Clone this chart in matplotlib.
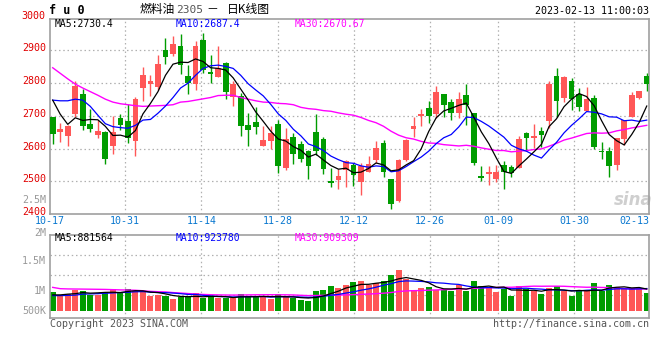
import numpy as np
import matplotlib.pyplot as plt
from matplotlib.transforms import blended_transform_factory

W, H = 660, 360

# daily candles, 2022-10-17 .. 2023-02-13
opens = [2697, 2651, 2638, 2705, 2766, 2674, 2641, 2651, 2608, 2694,
         2683, 2623, 2786, 2797, 2788, 2900, 2888, 2915, 2821, 2797,
         2931, 2833, 2819, 2860, 2757, 2760, 2671, 2680, 2608, 2623,
         2674, 2541, 2634, 2613, 2592, 2650, 2628, 2500, 2504, 2533,
         2550, 2499, 2528, 2565, 2618, 2506, 2440, 2565, 2660, 2698,
         2723, 2705, 2766, 2741, 2708, 2763, 2708, 2515, 2522, 2506,
         2549, 2543, 2540, 2648, 2632, 2653, 2683, 2821, 2754, 2808,
         2768, 2715, 2754, 2594, 2592, 2551, 2629, 2696, 2754, 2821]
highs = [2697, 2678, 2673, 2805, 2783, 2720, 2686, 2653, 2701, 2707,
         2737, 2757, 2848, 2825, 2885, 2938, 2943, 2949, 2854, 2928,
         2954, 2885, 2915, 2866, 2808, 2770, 2708, 2726, 2668, 2668,
         2688, 2664, 2648, 2622, 2597, 2705, 2636, 2541, 2538, 2564,
         2555, 2556, 2576, 2622, 2625, 2506, 2569, 2630, 2696, 2720,
         2744, 2790, 2766, 2750, 2772, 2796, 2708, 2546, 2548, 2549,
         2561, 2549, 2637, 2651, 2674, 2667, 2806, 2845, 2822, 2816,
         2784, 2787, 2763, 2619, 2604, 2631, 2686, 2773, 2775, 2830]
lows = [2615, 2620, 2608, 2696, 2656, 2651, 2632, 2553, 2583, 2658,
        2618, 2577, 2744, 2761, 2780, 2858, 2882, 2829, 2766, 2778,
        2831, 2799, 2819, 2750, 2729, 2638, 2608, 2644, 2608, 2600,
        2525, 2536, 2553, 2559, 2507, 2581, 2522, 2482, 2477, 2483,
        2485, 2458, 2528, 2557, 2513, 2415, 2437, 2561, 2635, 2669,
        2678, 2693, 2697, 2686, 2693, 2673, 2549, 2500, 2490, 2498,
        2477, 2513, 2540, 2592, 2603, 2606, 2663, 2696, 2741, 2718,
        2715, 2715, 2600, 2568, 2513, 2534, 2610, 2696, 2752, 2775]
closes = [2646, 2659, 2668, 2790, 2669, 2660, 2653, 2569, 2650, 2673,
          2632, 2750, 2826, 2807, 2857, 2880, 2920, 2856, 2801, 2912,
          2839, 2827, 2847, 2773, 2796, 2669, 2657, 2666, 2625, 2649,
          2547, 2628, 2583, 2567, 2547, 2592, 2537, 2496, 2515, 2561,
          2519, 2548, 2552, 2601, 2528, 2430, 2566, 2625, 2668, 2705,
          2698, 2772, 2732, 2708, 2751, 2732, 2556, 2510, 2528, 2528,
          2528, 2524, 2628, 2632, 2637, 2642, 2798, 2746, 2818, 2753,
          2727, 2751, 2604, 2588, 2547, 2631, 2686, 2763, 2775, 2797]

ma5 = [2748, 2705, 2674, 2694, 2686, 2689, 2688, 2668, 2640, 2641,
       2635, 2655, 2706, 2738, 2774, 2824, 2858, 2864, 2863, 2874,
       2866, 2847, 2845, 2840, 2816, 2782, 2748, 2712, 2683, 2653,
       2629, 2623, 2606, 2595, 2574, 2583, 2565, 2548, 2537, 2540,
       2526, 2528, 2539, 2556, 2550, 2532, 2535, 2550, 2563, 2599,
       2652, 2694, 2715, 2723, 2732, 2739, 2696, 2651, 2615, 2571,
       2530, 2524, 2547, 2568, 2590, 2613, 2667, 2691, 2728, 2751,
       2768, 2759, 2731, 2685, 2643, 2624, 2611, 2643, 2680, 2730]
ma10 = [2748, 2746, 2746, 2751, 2748, 2729, 2702, 2676, 2667, 2664,
        2662, 2671, 2687, 2689, 2708, 2730, 2756, 2785, 2800, 2824,
        2845, 2853, 2855, 2851, 2845, 2824, 2798, 2779, 2761, 2735,
        2706, 2686, 2659, 2639, 2614, 2606, 2594, 2577, 2566, 2557,
        2555, 2547, 2543, 2547, 2545, 2529, 2532, 2545, 2560, 2574,
        2592, 2615, 2633, 2643, 2666, 2696, 2695, 2683, 2669, 2652,
        2635, 2610, 2599, 2592, 2580, 2571, 2596, 2619, 2648, 2671,
        2691, 2713, 2711, 2706, 2697, 2696, 2685, 2687, 2683, 2687]
ma30 = [2847, 2830, 2813, 2797, 2785, 2774, 2763, 2751, 2742, 2737,
        2734, 2731, 2729, 2730, 2731, 2732, 2734, 2742, 2744, 2748,
        2752, 2756, 2762, 2763, 2763, 2756, 2751, 2746, 2742, 2741,
        2738, 2737, 2734, 2726, 2722, 2720, 2716, 2714, 2709, 2705,
        2702, 2695, 2686, 2679, 2668, 2653, 2641, 2633, 2629, 2622,
        2617, 2616, 2612, 2610, 2608, 2610, 2607, 2602, 2598, 2594,
        2594, 2590, 2592, 2594, 2597, 2599, 2607, 2616, 2626, 2632,
        2639, 2646, 2648, 2647, 2648, 2654, 2658, 2663, 2667, 2671]

# volume, thousands of lots
volume = [781, 589, 685, 863, 808, 658, 658, 781, 891, 740,
          891, 808, 754, 617, 658, 617, 480, 562, 562, 726,
          534, 562, 534, 534, 534, 685, 562, 562, 589, 493,
          685, 548, 521, 438, 411, 808, 849, 1014, 932, 1055,
          1178, 1219, 1041, 1151, 1219, 1466, 1671, 1315, 849, 932,
          973, 849, 891, 822, 1041, 822, 1219, 1014, 973, 767,
          891, 603, 1014, 891, 808, 685, 932, 1014, 808, 603,
          808, 849, 1137, 808, 1055, 973, 932, 918, 891, 740]
vol_ma5 = [650, 650, 680, 700, 745, 721, 734, 754, 759, 746,
           792, 822, 817, 762, 746, 691, 625, 587, 576, 589,
           573, 589, 584, 578, 540, 570, 570, 575, 586, 578,
           578, 575, 567, 537, 521, 545, 605, 704, 803, 932,
           1006, 1080, 1085, 1129, 1162, 1219, 1310, 1364, 1304, 1247,
           1148, 984, 899, 893, 915, 885, 959, 984, 1014, 959,
           973, 850, 850, 833, 841, 800, 866, 866, 849, 808,
           833, 816, 841, 841, 931, 964, 981, 937, 954, 891]
vol_ma10 = [620, 620, 630, 640, 680, 690, 700, 715, 730, 745,
            756, 778, 785, 761, 746, 742, 724, 702, 669, 668,
            632, 607, 585, 577, 565, 571, 580, 580, 582, 559,
            574, 573, 571, 562, 549, 562, 590, 636, 670, 726,
            775, 843, 895, 966, 1047, 1112, 1195, 1225, 1216, 1204,
            1184, 1147, 1132, 1099, 1081, 1017, 971, 941, 954, 937,
            929, 904, 917, 924, 900, 887, 858, 858, 841, 825,
            817, 841, 854, 845, 870, 899, 899, 889, 897, 911]
vol_ma30 = [959, 905, 895, 891, 888, 884, 880, 875, 865, 856,
            850, 840, 820, 795, 781, 772, 745, 726, 705, 685,
            668, 658, 650, 645, 642, 645, 650, 654, 656, 657,
            654, 653, 647, 633, 620, 625, 631, 639, 640, 651,
            660, 674, 684, 701, 720, 748, 788, 813, 823, 830,
            844, 854, 866, 875, 892, 897, 919, 934, 947, 956,
            963, 964, 981, 996, 1009, 1005, 1008, 1008, 1004, 989,
            976, 964, 967, 956, 950, 934, 909, 896, 897, 891]

date_labels = ["10-17", "10-31", "11-14", "11-28", "12-12", "12-26", "01-09", "01-30", "02-13"]
date_index = [0, 10, 20, 30, 40, 50, 59, 69, 79]
price_ticks = [2400, 2500, 2600, 2700, 2800, 2900, 3000]
vol_labels = ["2.5M", "2M", "1.5M", "1M", "500K"]

RED = "#ff5757"
GREEN = "#009c00"
GRID = "#b0b0b0"
MONO = "DejaVu Sans Mono"
CJK = ["Noto Sans CJK SC", "DejaVu Sans"]


def box(l, t, r, b):
    return [l / W, 1 - b / H, (r - l) / W, (b - t) / H]


def ftext(px, py, s, **kw):
    fig.text(px / W, 1 - py / H, s, **kw)


def grid_x(i):
    # date grid of the source drifts slightly against the candle slots
    return i - 0.35 + 0.0125 * (i - 10)


fig = plt.figure(figsize=(W / 100, H / 100), dpi=100)
fig.patch.set_facecolor("white")

ax_p = fig.add_axes(box(50, 19, 649, 214))
ax_v = fig.add_axes(box(50, 234.7, 649, 318))

x = np.arange(len(closes))
o = np.array(opens, float)
c = np.array(closes, float)
up = c >= o
colors = np.where(up, RED, GREEN)

# ---- both panels: frame and date grid
for ax in (ax_p, ax_v):
    ax.set_xlim(-0.36, 79.3)
    ax.set_xticks([])
    ax.set_yticks([])
    for s in ax.spines.values():
        s.set_color("#a0a0a0")
        s.set_linewidth(1.2)
    for i in date_index[1:-1]:
        ax.axvline(grid_x(i), color=GRID, lw=0.9, ls=(0, (1.2, 2.2)), zorder=0)

# ---- price panel
ax_p.set_ylim(2400, 2996)
for p in price_ticks[1:-1]:
    ax_p.axhline(p, color=GRID, lw=0.9, ls=(0, (1.2, 2.2)), zorder=0)

ax_p.vlines(x, lows, highs, colors=colors, lw=1.0, zorder=2)
body_h = np.maximum(np.abs(c - o), 2.0)
ax_p.bar(x, body_h, bottom=np.minimum(o, c), width=0.76, color=colors,
         linewidth=0, zorder=3)

ax_p.plot(x, ma30, color="#ff00ff", lw=1.0, zorder=4)
ax_p.plot(x, ma10, color="#0000ff", lw=0.9, zorder=4)
ax_p.plot(x, ma5, color="black", lw=0.9, zorder=4)

ytr = blended_transform_factory(ax_p.transAxes, ax_p.transData)
for p in price_ticks:
    ax_p.text(-0.007, p + 6, str(p), transform=ytr, ha="right", va="center",
              color="#e00000", fontsize=7.2, family=MONO, clip_on=False)

xtr = blended_transform_factory(ax_p.transData, ax_p.transAxes)
for lab, i in zip(date_labels, date_index):
    if i == date_index[0]:
        xi, ha = -0.36, "center"
    elif i == date_index[-1]:
        xi, ha = 79.3, "right"
    else:
        xi, ha = grid_x(i), "center"
    ax_p.text(xi, -0.037, lab, transform=xtr, ha=ha, va="center",
              color="#0a78d0", fontsize=7.2, family=MONO, clip_on=False)

ax_p.text(0.008, 0.973, "MA5:2730.4", transform=ax_p.transAxes,
          color="black", fontsize=7, family=MONO, va="center")
ax_p.text(0.209, 0.973, "MA10:2687.4", transform=ax_p.transAxes,
          color="#0000ff", fontsize=7, family=MONO, va="center")
ax_p.text(0.409, 0.973, "MA30:2670.67", transform=ax_p.transAxes,
          color="#ff00ff", fontsize=7, family=MONO, va="center")

ax_p.text(0.973, 0.07, "sina", transform=ax_p.transAxes, ha="center",
          va="center", color="#cfcfcf", fontsize=12, fontweight="bold",
          style="italic", zorder=1)

# ---- volume panel
ax_v.set_ylim(-300, 3124)
for f in (0.276, 0.516, 0.756):
    ax_v.plot([0, 1], [f, f], transform=ax_v.transAxes, color=GRID, lw=0.9,
              ls=(0, (1.2, 2.2)), zorder=0)
ax_v.bar(x, volume, width=0.8, color=colors, linewidth=0, zorder=2)
ax_v.plot(x, vol_ma30, color="#ff00ff", lw=1.0, zorder=3)
ax_v.plot(x, vol_ma10, color="#0000ff", lw=0.9, zorder=3)
ax_v.plot(x, vol_ma5, color="black", lw=0.9, zorder=3)

ax_v.text(0.008, 0.955, "MA5:881564", transform=ax_v.transAxes,
          color="black", fontsize=7, family=MONO, va="center")
ax_v.text(0.209, 0.955, "MA10:923780", transform=ax_v.transAxes,
          color="#0000ff", fontsize=7, family=MONO, va="center")
ax_v.text(0.409, 0.955, "MA30:909309", transform=ax_v.transAxes,
          color="#ff00ff", fontsize=7, family=MONO, va="center")

for lab, py in zip(vol_labels, [200, 232.5, 260.5, 290.7, 310.7]):
    ftext(46, py, lab, ha="right", va="center", color="#999999",
          fontsize=7.2, family=MONO)

# ---- header / footer
ftext(49, 11, "f u 0", ha="left", va="center", color="black", fontsize=8.5,
      family=MONO, fontweight="bold")
ftext(140, 9.5, "燃料油", ha="left", va="center", fontsize=8.5, family=CJK)
ftext(176, 10, "2305", ha="left", va="center", fontsize=8, family=MONO,
      color="#555555")
ftext(206, 9.5, "－", ha="left", va="center", fontsize=8.5, family=CJK)
ftext(227, 9.5, "日K线图", ha="left", va="center", fontsize=8.5, family=CJK)
ftext(649, 11.5, "2023-02-13 11:00:03", ha="right", va="center", fontsize=7.2,
      family=MONO, color="black")
ftext(50, 324, "Copyright 2023 SINA.COM", ha="left", va="center",
      fontsize=7.2, family=MONO, color="#555555")
ftext(649, 324, "http://finance.sina.com.cn", ha="right", va="center",
      fontsize=7.2, family=MONO, color="#555555")

fig.savefig("out.png", dpi=100, facecolor="white")
